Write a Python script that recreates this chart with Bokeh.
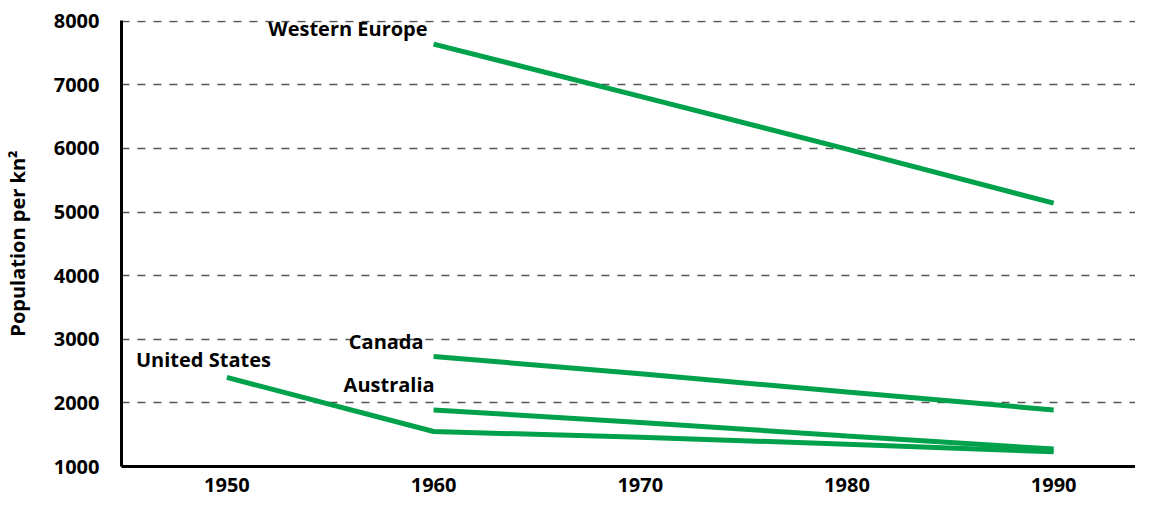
from bokeh.plotting import figure
from bokeh.models import Range1d, FixedTicker
from bokeh.core.properties import value
from bokeh.embed import file_html
from bokeh.resources import INLINE

# ---- data ----
years_us = [1950, 1960, 1970, 1980, 1990]
us = [2400, 1550, 1460, 1350, 1230]
years = [1960, 1970, 1980, 1990]
western_europe = [7640, 6820, 5990, 5140]
canada = [2730, 2460, 2170, 1890]
australia = [1890, 1690, 1480, 1275]
x_ticks = [1950, 1960, 1970, 1980, 1990]
y_ticks = [1000, 2000, 3000, 4000, 5000, 6000, 7000, 8000]
labels = ["Western Europe", "Canada", "Australia", "United States"]

GREEN = "#00a14b"
FONT = "Open Sans"

p = figure(width=1135, height=500, output_backend="svg", toolbar_location=None,
           x_range=Range1d(1944.9, 1993.96), y_range=Range1d(1000, 8012),
           min_border_left=118, min_border_top=20, min_border_right=0, min_border_bottom=34)
p.outline_line_color = None
p.xgrid.grid_line_color = None
p.ygrid.grid_line_color = "#555555"
p.ygrid.grid_line_dash = "8 8"
p.ygrid.grid_line_width = 1.3

for ax in (p.xaxis[0], p.yaxis[0]):
    ax.axis_line_width = 3
    ax.axis_line_color = "black"
    ax.major_tick_line_color = None
    ax.minor_tick_line_color = None
    ax.major_label_text_font = FONT
    ax.major_label_text_font_style = "bold"
    ax.major_label_text_font_size = "20px"
    ax.major_label_text_color = "black"

p.xaxis.ticker = FixedTicker(ticks=x_ticks)
p.yaxis.ticker = FixedTicker(ticks=y_ticks)
p.xaxis.major_label_standoff = 5
p.yaxis.major_label_standoff = 16
p.yaxis.axis_label = "Population per kn²"
p.yaxis.axis_label_text_font = FONT
p.yaxis.axis_label_text_font_style = "bold"
p.yaxis.axis_label_text_font_size = "20px"
p.yaxis.axis_label_text_color = "black"
p.yaxis.axis_label_standoff = 20

series = [
    (years, western_europe),
    (years, canada),
    (years, australia),
    (years_us, us),
]
for xs, ys in series:
    p.line(xs, ys, line_color=GREEN, line_width=5)

# labels anchored to each series' first point
offsets = [(-6, -16), (-10, -15), (1, -25), (44, -18)]
for (xs, ys), lab, (dx, dy) in zip(series, labels, offsets):
    p.text(x=[xs[0]], y=[ys[0]], text=[lab], x_offset=dx, y_offset=dy,
           text_align="right", text_baseline="middle",
           text_font=value(FONT), text_font_style="bold",
           text_font_size="20px", text_color="black")

open("out.html", "w").write(file_html(p, INLINE))
